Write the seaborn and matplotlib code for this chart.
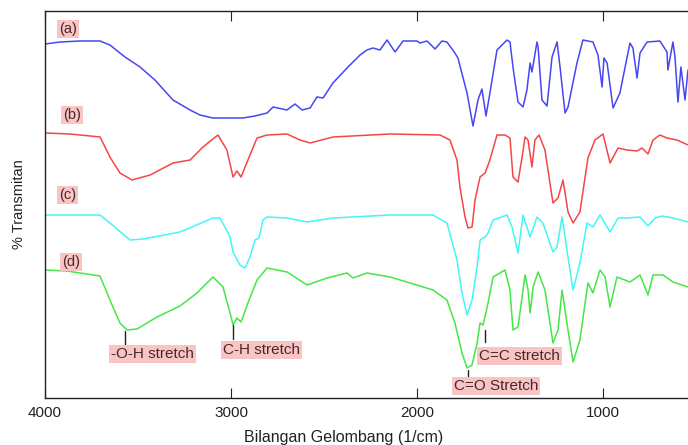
import numpy as np
import pandas as pd
import matplotlib
matplotlib.use('Agg')
import matplotlib.pyplot as plt
import seaborn as sns

# bilangan gelombang (1/cm) dan transmitan (skala bebas, sudah digeser per sampel)
wn_a = [4000, 3919, 3812, 3704, 3651, 3570, 3489, 3409, 3312, 3220, 3167, 3097, 2935, 2871,
        2806, 2774, 2699, 2656, 2618, 2575, 2538, 2505, 2452, 2371, 2306, 2269, 2237, 2199,
        2161, 2118, 2075, 2000, 1984, 1946, 1903, 1866, 1839, 1796, 1780, 1731, 1699, 1672,
        1651, 1629, 1608, 1570, 1516, 1500, 1484, 1457, 1430, 1409, 1392, 1382, 1371, 1355,
        1349, 1328, 1301, 1274, 1247, 1231, 1204, 1188, 1140, 1108, 1054, 1027, 1005, 995,
        978, 946, 909, 855, 839, 817, 801, 763, 694, 656, 651, 624, 613, 597, 581, 559, 543]
t_a = [354, 356, 357, 357, 353, 341, 331, 318, 298, 288, 283, 280, 280, 282,
       285, 291, 288, 294, 288, 290, 301, 300, 315, 331, 343, 348, 350, 348,
       358, 346, 357, 357, 355, 357, 349, 357, 356, 345, 340, 305, 272, 298,
       309, 282, 305, 348, 358, 356, 331, 296, 291, 308, 335, 326, 338, 356,
       351, 298, 292, 341, 356, 331, 285, 291, 335, 358, 356, 343, 311, 340,
       335, 290, 305, 355, 350, 320, 345, 356, 357, 346, 328, 356, 341, 296, 331, 298, 328]

wn_b = [4000, 3866, 3704, 3651, 3597, 3532, 3435, 3312, 3220, 3151, 3070, 3022, 2989, 2968,
        2946, 2909, 2860, 2806, 2699, 2629, 2575, 2452, 2145, 1876, 1823, 1785, 1769, 1742,
        1726, 1704, 1688, 1661, 1634, 1608, 1570, 1527, 1500, 1484, 1457, 1435, 1419, 1403,
        1382, 1366, 1344, 1312, 1269, 1242, 1215, 1188, 1161, 1124, 1081, 1043, 1000, 962,
        919, 871, 817, 790, 758, 731, 694, 656, 602, 543]
t_b = [265, 264, 261, 241, 225, 218, 223, 235, 238, 251, 263, 248, 221, 227,
       221, 238, 260, 263, 264, 258, 255, 261, 264, 263, 258, 238, 211, 181,
       170, 171, 198, 221, 225, 238, 263, 263, 260, 221, 216, 241, 261, 258,
       231, 258, 263, 248, 195, 200, 218, 186, 175, 186, 240, 258, 264, 235,
       250, 248, 247, 250, 244, 258, 263, 260, 258, 253]

wn_c = [4000, 3704, 3651, 3543, 3473, 3274, 3097, 3059, 3005, 2989, 2952, 2925, 2898, 2871,
        2849, 2828, 2806, 2699, 2591, 2452, 2145, 1914, 1839, 1785, 1758, 1731, 1704, 1677,
        1661, 1634, 1618, 1591, 1516, 1489, 1457, 1430, 1392, 1355, 1323, 1269, 1247, 1220,
        1194, 1161, 1124, 1086, 1054, 1016, 962, 919, 871, 801, 758, 720, 683, 624, 543]
t_c = [183, 183, 175, 158, 159, 166, 180, 180, 161, 146, 133, 130, 141, 158,
       160, 178, 181, 180, 176, 180, 183, 183, 175, 138, 105, 83, 98, 131,
       158, 161, 165, 178, 183, 171, 145, 183, 161, 181, 175, 146, 151, 181,
       148, 108, 135, 175, 171, 183, 166, 180, 180, 181, 172, 180, 182, 180, 176]

wn_d = [4000, 3882, 3704, 3651, 3597, 3559, 3505, 3398, 3274, 3183, 3097, 3043, 3005, 2989,
        2968, 2946, 2909, 2860, 2806, 2699, 2591, 2484, 2376, 2344, 2269, 2145, 2054, 1914,
        1839, 1796, 1758, 1731, 1704, 1677, 1661, 1645, 1618, 1591, 1527, 1500, 1484, 1457,
        1435, 1419, 1403, 1392, 1376, 1349, 1312, 1269, 1242, 1220, 1194, 1161, 1124, 1081,
        1054, 1016, 989, 962, 925, 855, 801, 758, 731, 677, 624, 543]
t_d = [128, 127, 122, 98, 75, 68, 69, 81, 92, 105, 121, 111, 85, 73,
       80, 76, 95, 118, 130, 126, 113, 120, 125, 120, 125, 121, 116, 108,
       98, 75, 45, 30, 33, 55, 75, 73, 95, 121, 128, 108, 68, 71,
       101, 123, 108, 85, 111, 126, 108, 55, 68, 108, 75, 36, 58, 115,
       105, 128, 121, 91, 121, 116, 123, 103, 123, 123, 116, 111]

sampel = ['(a)', '(b)', '(c)', '(d)']
warna = ['#4646f5', '#f54646', '#46f5f5', '#46e646']

# posisi label sampel (wn, T)
label_wn = [3925, 3903, 3925, 3908]
label_t = [369, 283, 203, 136]

# pita serapan yang ditandai
pita_nama = ['-O-H stretch', 'C-H stretch', 'C=C stretch', 'C=O Stretch']
pita_wn = [3570, 2989, 1634, 1726]
pita_garis = [(67, 53), (73, 59), (68, 56), (28, 21)]
teks_wn = [3645, 3043, 1667, 1801]
teks_t = [44, 48, 42, 12]

df = pd.concat([
    pd.DataFrame({'wn': w, 'T': t, 'sampel': s})
    for w, t, s in zip([wn_a, wn_b, wn_c, wn_d], [t_a, t_b, t_c, t_d], sampel)
])

sns.set_style('ticks')
plt.rcParams['font.family'] = ['Liberation Sans', 'DejaVu Sans']

fig = plt.figure(figsize=(6.88, 4.45), dpi=100)
ax = fig.add_axes([45 / 688, 1 - 398 / 445, 1 - 45 / 688, 387 / 445])

sns.lineplot(data=df, x='wn', y='T', hue='sampel', palette=warna, estimator=None,
             sort=False, legend=False, lw=1.1, ax=ax)

ax.set_xlim(4000, 543)
ax.set_ylim(0, 387)
ax.set_xticks([4000, 3000, 2000, 1000])
ax.set_yticks([])
ax.tick_params(axis='x', direction='in', length=7, width=0.8, top=True, labelsize=11, pad=6,
               colors='#222222')
for s in ['left', 'top', 'bottom']:
    ax.spines[s].set_linewidth(1)
    ax.spines[s].set_color('#222222')
ax.spines['right'].set_visible(False)

ax.set_xlabel('Bilangan Gelombang (1/cm)', fontsize=11.5, color='#222222', va='center')
ax.xaxis.set_label_coords(0.465, -0.101)
ax.set_ylabel('% Transmitan', fontsize=10.5, color='#222222', labelpad=14)

kotak = dict(boxstyle='square,pad=0.12', fc='#f8c4c4', ec='none')
for s, w, t in zip(sampel, label_wn, label_t):
    ax.text(w, t, s, fontsize=10.5, color='#4a2828', ha='left', va='center', bbox=kotak)

for nama, w, g, tw, tt in zip(pita_nama, pita_wn, pita_garis, teks_wn, teks_t):
    ax.plot([w, w], list(g), color='#222222', lw=1)
    ax.text(tw, tt, nama, fontsize=11, color='#4a2828', ha='left', va='center', bbox=kotak)

plt.savefig('out.png', dpi=100)
